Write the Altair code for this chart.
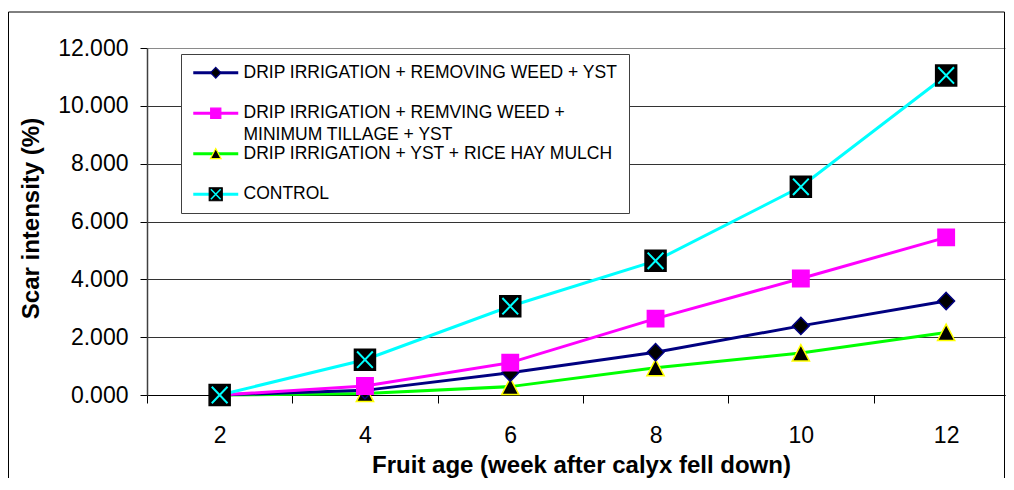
import altair as alt
import pandas as pd

# ---------------- data ----------------
weeks = [2, 4, 6, 8, 10, 12]
series_names = [
    "DRIP IRRIGATION + REMOVING WEED + YST",
    "DRIP IRRIGATION + REMVING WEED +|MINIMUM TILLAGE + YST",
    "DRIP IRRIGATION  + YST + RICE HAY MULCH",
    "CONTROL",
]
navy_vals = [0.0, 0.16, 0.77, 1.48, 2.39, 3.25]
magenta_vals = [0.0, 0.31, 1.12, 2.64, 4.03, 5.45]
green_vals = [0.0, 0.05, 0.29, 0.94, 1.45, 2.16]
control_vals = [0.0, 1.22, 3.07, 4.64, 7.20, 11.05]

y_ticks = [0, 2, 4, 6, 8, 10, 12]
x_tick_positions = [1, 3, 5, 7, 9, 11]   # category boundaries

# ---------------- styles ----------------
line_colors = ["#000080", "#FF00FF", "#00FF00", "#00FFFF"]
marker_shapes = [
    "M0,-0.82L0.8,0L0,0.82L-0.8,0Z",
    "M-0.78,-0.78H0.78V0.78H-0.78Z",
    "M0,-0.8L0.82,0.76L-0.82,0.76Z",
    "M-1,-1H1V1H-1Z",
]
marker_fills = ["#000000", "#FF00FF", "#000000", "#000000"]
marker_strokes = ["#000080", "#FF00FF", "#FFFF00", "#000000"]
cross_shapes = ["M0,0", "M0,0", "M0,0", "M-0.75,-0.78L0.75,0.78M-0.75,0.78L0.75,-0.78"]
cross_strokes = ["transparent", "transparent", "transparent", "#00FFFF"]
legend_line = "M-3.46,0H3.46"

FONT = "Liberation Sans, Arial, sans-serif"

rows = []
order = [2, 0, 1, 3]
all_vals = [navy_vals, magenta_vals, green_vals, control_vals]
for i in order:
    for w, v in zip(weeks, all_vals[i]):
        rows.append({"week": w, "value": v, "series": series_names[i]})
df = pd.DataFrame(rows)

PLOT_W = 858
PLOT_H = 347
STEP = 72.65
x_max = 1 + PLOT_W / STEP

x_enc = alt.X(
    "week:Q",
    scale=alt.Scale(domain=[1, x_max], nice=False, zero=False),
    axis=alt.Axis(
        values=x_tick_positions,
        labelExpr="'' + (datum.value + 1)",
        labelOffset=STEP,
        labelFlush=False,
        labelOverlap=False,
        labelBound=False,
        grid=False,
        tickSize=8,
        tickColor="#000000",
        domainColor="#000000",
        labelFont=FONT,
        labelFontSize=23,
        labelColor="#000000",
        labelPadding=21,
        title="Fruit age (week after calyx fell down)",
        titleFont=FONT,
        titleFontSize=24,
        titleFontWeight="bold",
        titleColor="#000000",
        titleX=434,
        titleY=77,
        titleBaseline="alphabetic",
    ),
)
y_enc = alt.Y(
    "value:Q",
    scale=alt.Scale(domain=[0, 12], nice=False, zero=True),
    axis=alt.Axis(
        values=y_ticks,
        format=".3f",
        grid=True,
        gridColor={"condition": {"test": "datum.value == 12", "value": "#8a8a8a"}, "value": "#333333"},
        gridWidth=1,
        domainColor="#404040",
        domainWidth=1.5,
        tickColor="#000000",
        tickSize=7,
        labelFont=FONT,
        labelFontSize=23,
        labelColor="#000000",
        labelPadding=12,
        title="Scar intensity (%)",
        titleFont=FONT,
        titleFontSize=24,
        titleFontWeight="bold",
        titleColor="#000000",
        titleX=-116,
        titleY=170,
        titleBaseline="middle",
    ),
)

LX, LY = 34, 6
common = dict(
    orient="none", legendX=LX, legendY=LY, title=None, direction="vertical",
    labelFont=FONT, labelFontSize=17.5, labelLimit=800, padding=10, rowPadding=21.5,
    symbolSize=169, symbolOffset=16, labelOffset=19,
)
first_line = "split(datum.label, '|')[0]"
second_line = "length(split(datum.label, '|')) > 1 ? split(datum.label, '|')[1] : ' '"
blank = "' '"

legend_a = alt.Legend(**common, symbolType=legend_line, symbolStrokeWidth=3,
                      fillColor="white", strokeColor="#404040", labelColor="#000000",
                      labelExpr=first_line)
legend_b = alt.Legend(**common, symbolStrokeWidth=1.2, labelColor="transparent",
                      labelExpr=blank)
legend_c = alt.Legend(**common, symbolStrokeWidth=1.5, symbolFillColor="transparent",
                      labelColor="transparent", labelExpr=blank)
common_d = dict(common)
common_d["legendY"] = LY + 22
legend_d = alt.Legend(**common_d, symbolType=legend_line, symbolOpacity=0,
                      labelColor="#000000", labelExpr=second_line)

base = alt.Chart(df)

frame = alt.Chart(pd.DataFrame({"frame": [0]})).mark_rect(
    fillOpacity=0, stroke="#000000", strokeWidth=1
).encode(
    x=alt.value(-138.5), x2=alt.value(857.5), y=alt.value(-36), y2=alt.value(700)
)

lines = base.mark_line(strokeWidth=3).encode(
    x=x_enc, y=y_enc,
    color=alt.Color("series:N", scale=alt.Scale(domain=series_names, range=line_colors),
                    legend=legend_a),
)

markers = base.mark_point(filled=True, size=441, strokeWidth=1.5, opacity=1).encode(
    x=x_enc, y=y_enc,
    shape=alt.Shape("series:N", scale=alt.Scale(domain=series_names, range=marker_shapes),
                    legend=legend_b),
    fill=alt.Fill("series:N", scale=alt.Scale(domain=series_names, range=marker_fills),
                  legend=legend_b),
    stroke=alt.Stroke("series:N", scale=alt.Scale(domain=series_names, range=marker_strokes),
                      legend=legend_b),
)

crosses = base.mark_point(filled=False, size=441, strokeWidth=2, opacity=1).encode(
    x=x_enc, y=y_enc,
    shape=alt.Shape("series:N", scale=alt.Scale(domain=series_names, range=cross_shapes),
                    legend=legend_c),
    stroke=alt.Stroke("series:N", scale=alt.Scale(domain=series_names, range=cross_strokes),
                      legend=legend_c),
)

label2 = base.mark_point(opacity=0, size=169).encode(
    x=x_enc, y=y_enc,
    shape=alt.Shape("series:N", scale=alt.Scale(domain=series_names, range=[legend_line] * 4),
                    legend=legend_d),
)

chart = alt.layer(frame, lines, markers, crosses, label2).resolve_scale(
    color="independent", fill="independent", stroke="independent", shape="independent"
).resolve_legend(
    color="independent", fill="independent", stroke="independent", shape="independent"
).properties(
    width=PLOT_W,
    height=PLOT_H,
    padding={"left": 139, "top": 40, "right": 1, "bottom": 83},
    autosize=alt.AutoSizeParams(type="none"),
    background="white",
).configure_view(strokeWidth=0)

chart.save("out.html", embed_options={"renderer": "svg", "actions": False})
